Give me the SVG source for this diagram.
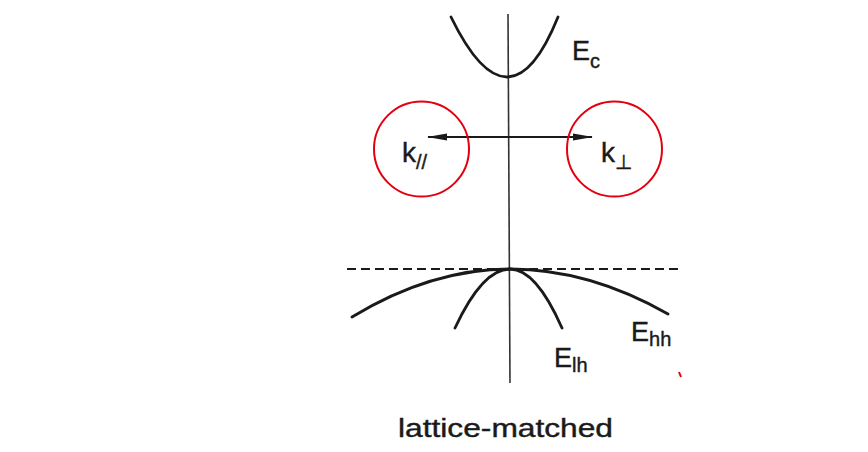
<svg xmlns="http://www.w3.org/2000/svg" width="868" height="452" viewBox="0 0 868 452">
<style>
.curve{fill:none;stroke:#1a1a1a;stroke-width:2.8;stroke-linecap:round}
.axis{fill:none;stroke:#333;stroke-width:1.6}
.lbl{font-family:"Liberation Sans",Arial,sans-serif;fill:#1a1a1a;stroke:#1a1a1a;stroke-width:0.4}
.ring{fill:none;stroke:#e3000f;stroke-width:2}
</style>
<defs>
<marker id="ah" viewBox="0 0 20 10" refX="19" refY="5" markerWidth="20" markerHeight="10" markerUnits="userSpaceOnUse" orient="auto">
<path d="M0,1.5 L20,5 L0,8.5 Z" fill="#1a1a1a"/>
</marker>
</defs>
<rect width="868" height="452" fill="#fff"/>
<g id="connectors">
<line id="axis" class="axis" x1="508" y1="14" x2="510" y2="383"/>
<line id="k-arrow-left" x1="508" y1="137" x2="428" y2="137" stroke="#1a1a1a" stroke-width="2.2" marker-end="url(#ah)"/>
<line id="k-arrow-right" x1="508" y1="137" x2="592" y2="137" stroke="#1a1a1a" stroke-width="2.2" marker-end="url(#ah)"/>
<line id="vb-top" x1="347" y1="269" x2="681" y2="269" stroke="#1a1a1a" stroke-width="2" stroke-dasharray="9,5"/>
</g>
<g id="Ec">
<path class="curve" d="M451,17 Q509.5,137 558,17"/>
<text class="lbl" x="572" y="60" font-size="27">E<tspan font-size="20" dy="8">c</tspan></text>
</g>
<g id="Ehh">
<path class="curve" d="M352,317 Q431,269 510,269 Q589,269 668,314"/>
<text class="lbl" x="631" y="341" font-size="27">E<tspan font-size="20" dy="5">hh</tspan></text>
</g>
<g id="Elh">
<path class="curve" d="M455,328 Q482.5,269 510,269 Q536,269 562,328"/>
<text class="lbl" x="554" y="367" font-size="27">E<tspan font-size="20" dy="5">lh</tspan></text>
</g>
<g id="k-par">
<circle class="ring" cx="421.5" cy="149" r="47.5"/>
<text class="lbl" x="402" y="162" font-size="28">k<tspan font-size="20" dy="7">//</tspan></text>
</g>
<g id="k-perp">
<circle class="ring" cx="614.5" cy="149" r="47.5"/>
<text class="lbl" x="601" y="162" font-size="28">k<tspan font-size="20" dy="7">⊥</tspan></text>
</g>
<path d="M679,372 L681,377" stroke="#e3000f" stroke-width="2"/>
<g id="caption">
<text class="lbl" x="398" y="437" font-size="25" textLength="215" lengthAdjust="spacingAndGlyphs">lattice-matched</text>
</g>
</svg>
